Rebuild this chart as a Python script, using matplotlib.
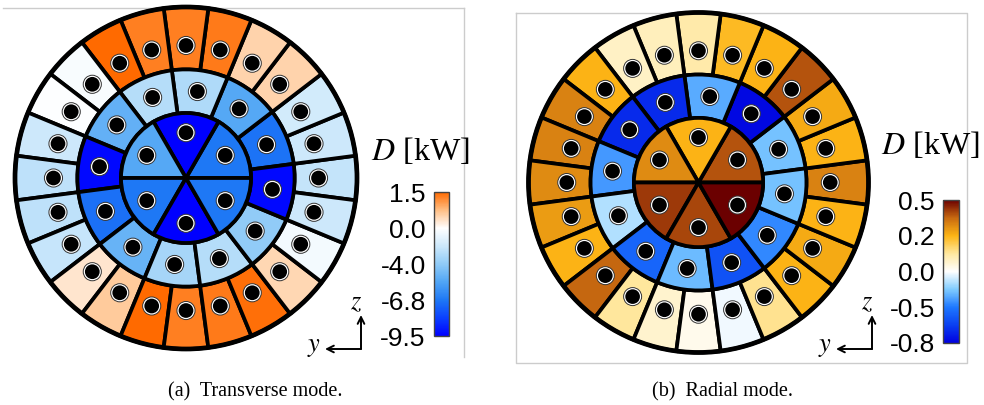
import numpy as np
import matplotlib
matplotlib.use("Agg")
import matplotlib.pyplot as plt
from matplotlib.cm import ScalarMappable
from matplotlib.colors import LinearSegmentedColormap, Normalize
from matplotlib.lines import Line2D
from matplotlib.patches import Circle, Wedge

plt.rcParams["font.family"] = ["Liberation Sans", "DejaVu Sans"]
plt.rcParams["mathtext.fontset"] = "stix"

W, H = 984, 405

# sector values D [kW]; outer ring starts at 0 deg (15 deg steps),
# middle ring at 22.5 deg (30 deg steps), inner ring at 30 deg (60 deg steps)
transverse_outer = [-2.3, -2.0, -1.8, 0.5, 0.5, 1.35, 1.3, 1.3, 1.5, -0.3, -0.1, -2.0,
                    -2.5, -2.5, -2.2, 0.3, 0.6, 1.5, 1.3, 1.35, 1.45, 0.45, -0.5, -2.0]
transverse_middle = [-6.9, -5.3, -3.0, -2.8, -5.0, -9.3, -7.0, -4.9, -3.3, -2.8, -4.0, -9.3]
transverse_inner = [-6.8, -9.5, -5.3, -6.8, -9.5, -6.8]
transverse_ticks = [-9.5, -6.8, -4.0, 0.0, 1.5]
transverse_labels = ["-9.5", "-6.8", "-4.0", "0.0", "1.5"]

radial_outer = [0.3, 0.2, 0.22, 0.38, 0.2, 0.19, 0.09, 0.07, 0.06, 0.2, 0.3, 0.3,
                0.28, 0.25, 0.2, 0.35, 0.1, 0.05, 0.02, -0.03, 0.11, 0.2, 0.22, 0.2]
radial_middle = [-0.28, -0.78, -0.35, -0.7, -0.7, -0.4, -0.15, -0.55, -0.3, -0.6, -0.45, -0.28]
radial_inner = [0.38, 0.2, 0.28, 0.42, 0.4, 0.5]
radial_ticks = [-0.8, -0.5, 0.0, 0.2, 0.5]
radial_labels = ["-0.8", "-0.5", "0.0", "0.2", "0.5"]

captions = ["(a)  Transverse mode.", "(b)  Radial mode."]

cmap_transverse = LinearSegmentedColormap.from_list("transverse", [
    (0.0, "#0000ff"), (0.125, "#0a40ff"), (0.25, "#1e78f5"), (0.375, "#50a5f5"),
    (0.5, "#90cbf7"), (0.625, "#cce8fb"), (0.75, "#ffffff"), (0.875, "#ffbf85"),
    (1.0, "#ff6a00")])
cmap_radial = LinearSegmentedColormap.from_list("radial", [
    (0.0, "#0000e0"), (0.125, "#0a40f0"), (0.25, "#1e78ff"), (0.375, "#80ccff"),
    (0.5, "#ffffff"), (0.625, "#ffe8a0"), (0.75, "#fdb515"), (0.875, "#c86a10"),
    (1.0, "#6b0000")])

R_MID, R_IN = 0.635, 0.38
LW = 2.7


def fig_box(x0, y0, w, h):
    """pixel box (top-left origin) -> figure fraction"""
    return [x0 / W, (H - y0 - h) / H, w / W, h / H]


def draw_rings(ax, outer, middle, inner, ticks, cmap):
    pos = np.linspace(0, 1, len(ticks))
    rings = [
        (outer, R_MID, 1.0, 0.0, 0.775),
        (middle, R_IN, R_MID, 22.5, 0.51),
        (inner, 0.0, R_IN, 30.0, 0.265),
    ]
    for values, r0, r1, start, rdot in rings:
        step = 360.0 / len(values)
        for k, v in enumerate(values):
            ang = start + k * step
            color = cmap(np.interp(v, ticks, pos))
            ax.add_patch(Wedge((0, 0), r1, ang - step / 2, ang + step / 2,
                               width=(r1 - r0) if r0 > 0 else None,
                               facecolor=color, edgecolor="black", lw=LW))
            x, y = rdot * np.cos(np.radians(ang)), rdot * np.sin(np.radians(ang))
            ax.add_patch(Circle((x, y), 0.053, facecolor="white", edgecolor="#333333",
                                lw=0.7, zorder=3))
            ax.add_patch(Circle((x, y), 0.043, facecolor="black", edgecolor="none", zorder=4))
    ax.add_patch(Circle((0, 0), 1.0, fill=False, edgecolor="black", lw=3.4, zorder=5))


def draw_colorbar(fig, box, cmap, labels):
    cax = fig.add_axes(fig_box(*box))
    cb = fig.colorbar(ScalarMappable(norm=Normalize(0, 1), cmap=cmap), cax=cax,
                      ticks=np.linspace(0, 1, len(labels)))
    cax.yaxis.set_ticks_position("left")
    cax.set_yticklabels(labels)
    cax.tick_params(length=0, pad=6, labelsize=19)
    cb.outline.set_edgecolor("#444444")
    cb.outline.set_linewidth(1.0)
    return cb


def draw_axes_sign(ax, corner):
    cx, cy = corner[0], H - corner[1]
    arrow = dict(arrowstyle="->", lw=1.4, color="black", shrinkA=0, shrinkB=0,
                 mutation_scale=12)
    ax.annotate("", xy=(cx, cy + 34), xytext=(cx, cy), xycoords="figure pixels",
                textcoords="figure pixels", arrowprops=arrow, annotation_clip=False)
    ax.annotate("", xy=(cx - 36, cy), xytext=(cx, cy), xycoords="figure pixels",
                textcoords="figure pixels", arrowprops=arrow, annotation_clip=False)
    ax.annotate("$z$", xy=(cx - 5, cy + 47), xycoords="figure pixels", ha="center",
                va="center", fontsize=19, annotation_clip=False)
    ax.annotate("$y$", xy=(cx - 47, cy + 2), xycoords="figure pixels", ha="center",
                va="center", fontsize=19, annotation_clip=False)


fig = plt.figure(figsize=(W / 100, H / 100), dpi=100)

# light grey frames around the two sub-pictures
frame = dict(color="#cccccc", lw=1.0, transform=fig.transFigure, zorder=-1)
fig.add_artist(Line2D([3 / W, 464 / W], [1 - 8 / H, 1 - 8 / H], **frame))
fig.add_artist(Line2D([464 / W, 464 / W], [1 - 8 / H, 1 - 357 / H], **frame))
fig.add_artist(Line2D([516 / W, 967 / W, 967 / W, 516 / W, 516 / W],
                      [1 - 13 / H, 1 - 13 / H, 1 - 363 / H, 1 - 363 / H, 1 - 13 / H], **frame))

panels = [
    ((186, 178, 171), transverse_outer, transverse_middle, transverse_inner,
     transverse_ticks, cmap_transverse, transverse_labels, (434, 192, 15, 144),
     (371, 160), (361, 349), 255),
    ((698.5, 182.5, 170), radial_outer, radial_middle, radial_inner,
     radial_ticks, cmap_radial, radial_labels, (943, 200, 16, 143),
     (881, 154), (872, 349), 722),
]

for i, (circ, outer, middle, inner, ticks, cmap, labels, cbox, title_xy,
        corner, cap_x) in enumerate(panels):
    cx, cy, R = circ
    half = 180
    ax = fig.add_axes(fig_box(cx - half, cy - half, 2 * half, 2 * half))
    ax.set_xlim(-half / R, half / R)
    ax.set_ylim(-half / R, half / R)
    ax.set_aspect("equal")
    ax.axis("off")
    draw_rings(ax, outer, middle, inner, ticks, cmap)

    draw_colorbar(fig, cbox, cmap, labels)
    fig.text(title_xy[0] / W, 1 - title_xy[1] / H, "$D$ [kW]", ha="left",
             va="baseline", fontsize=23, family="Liberation Serif")
    draw_axes_sign(ax, corner)
    fig.text(cap_x / W, 1 - 392 / H, captions[i], ha="center", va="center",
             fontsize=14.5, family="Liberation Serif")

fig.savefig("out.png", dpi=100)
